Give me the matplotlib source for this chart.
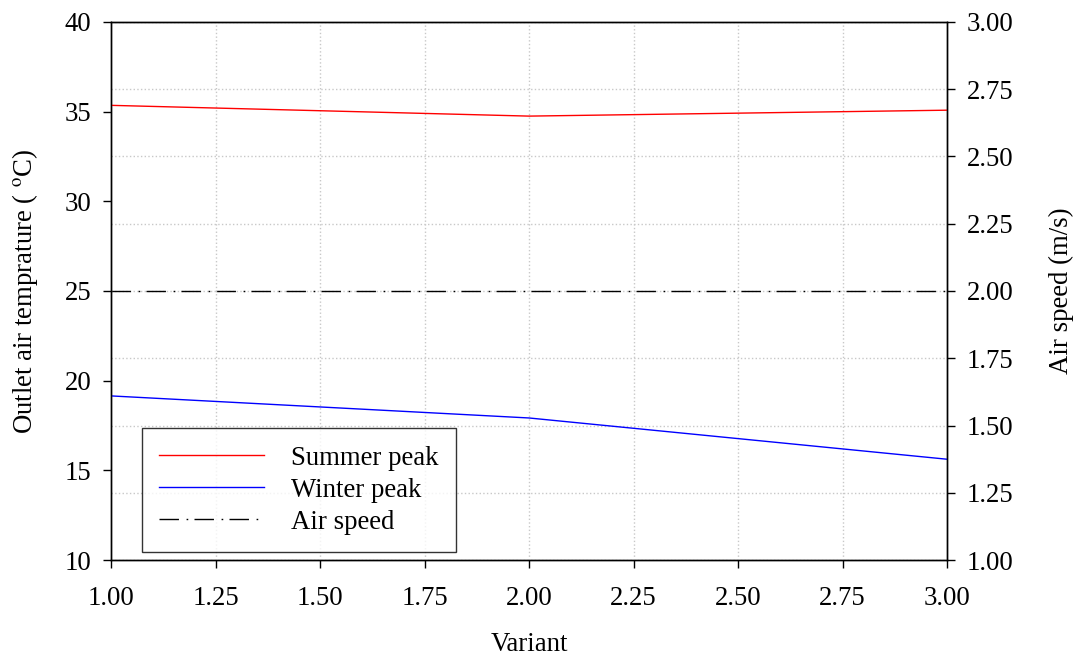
import matplotlib
matplotlib.use("Agg")
import matplotlib.pyplot as plt
from matplotlib.ticker import FormatStrFormatter, MultipleLocator

plt.rcParams["font.family"] = ["Liberation Serif", "DejaVu Serif"]
plt.rcParams["mathtext.fontset"] = "stix"

variant = [1.0, 2.0, 3.0]
summer_peak = [35.35, 34.75, 35.08]
winter_peak = [19.15, 17.92, 15.62]
air_speed = [2.0, 2.0, 2.0]

fig = plt.figure(figsize=(10.78, 6.57), dpi=100)
ax = fig.add_axes([0.103, 0.1476, 0.7755, 0.819])
ax2 = ax.twinx()

l1, = ax.plot(variant, summer_peak, color="red", lw=1.0, label="Summer peak")
l2, = ax.plot(variant, winter_peak, color="blue", lw=1.0, label="Winter peak")
l3, = ax2.plot(variant, air_speed, color="black", lw=1.0,
               dashes=(14, 5.5, 1.2, 4.5), label="Air speed")

ax.set_xlim(1, 3)
ax.set_ylim(10, 40)
ax2.set_ylim(1, 3)
ax.xaxis.set_major_locator(MultipleLocator(0.25))
ax.yaxis.set_major_locator(MultipleLocator(5))
ax2.yaxis.set_major_locator(MultipleLocator(0.25))
ax.xaxis.set_major_formatter(FormatStrFormatter("%.2f"))
ax2.yaxis.set_major_formatter(FormatStrFormatter("%.2f"))

fs = 19.3
for a in (ax, ax2):
    a.tick_params(direction="out", length=6, width=1, labelsize=fs, pad=8)
    for s in a.spines.values():
        s.set_linewidth(1.0)
ax.tick_params(axis="x", pad=12.5)

ax.grid(axis="x", color="#c8c8c8", linestyle=":", lw=1.0)
ax2.grid(axis="y", color="#c8c8c8", linestyle=":", lw=1.0)
ax.set_zorder(ax2.get_zorder() + 1)
ax.patch.set_visible(False)

ax.set_xlabel("Variant", fontsize=fs, labelpad=15)
ax.set_ylabel("Outlet air temprature ( $^{\\rm o}$C)", fontsize=fs, labelpad=18)
ax2.set_ylabel("Air speed (m/s)", fontsize=fs, labelpad=26)

leg = ax.legend(handles=[l1, l2, l3], loc="lower left",
                bbox_to_anchor=(0.037, 0.015), fontsize=fs, frameon=True,
                fancybox=False, edgecolor="black", handlelength=3.9,
                handletextpad=1.0, borderpad=0.65, labelspacing=0.26,
                borderaxespad=0)
leg.get_frame().set_linewidth(1.0)

fig.savefig("out.png", dpi=100)
